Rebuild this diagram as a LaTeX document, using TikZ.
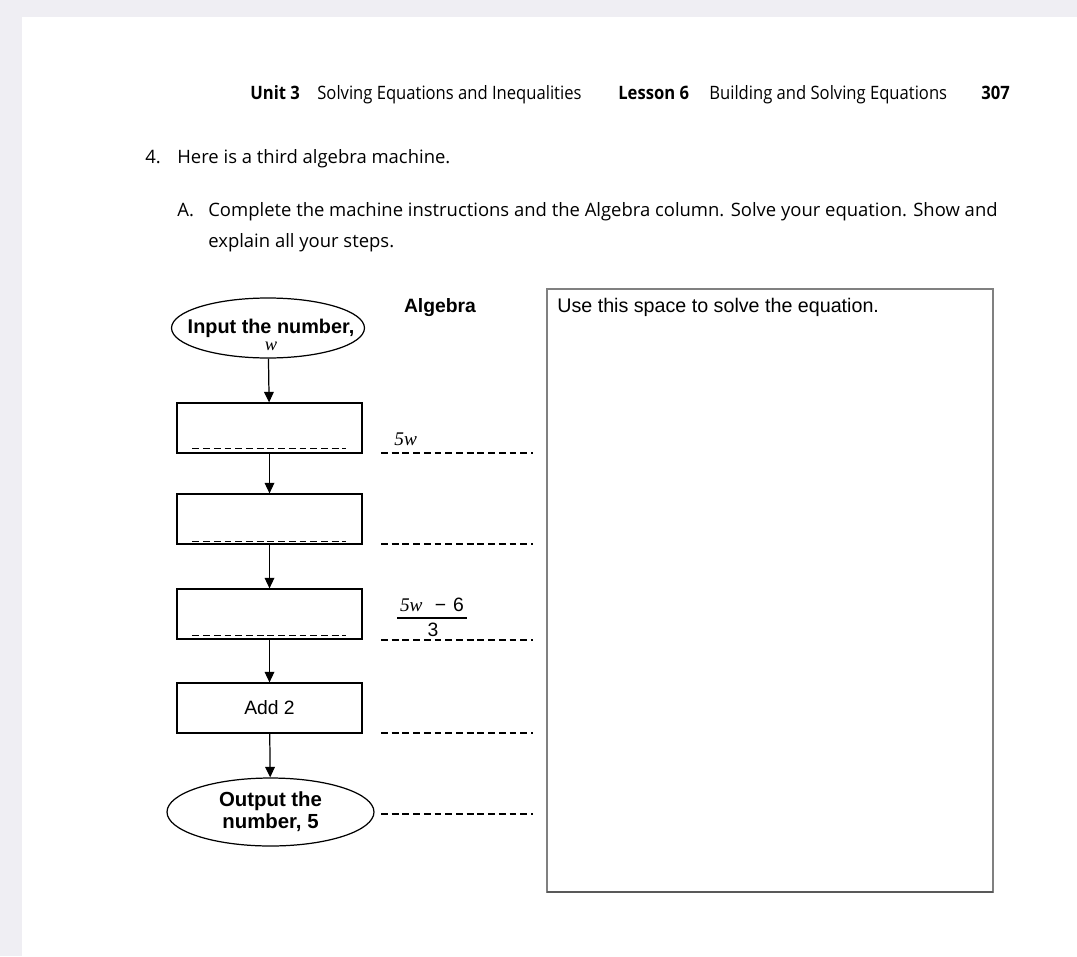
\documentclass[tikz,border=0pt]{standalone}
\usepackage{fontspec}
\setmainfont{Liberation Serif}
\setsansfont{Liberation Sans}
\newfontfamily\bodyfont{Open Sans}
\newfontfamily\headfont{Open Sans}[FakeStretch=0.9]
\usetikzlibrary{arrows.meta,positioning,shapes.geometric}

\definecolor{pagegrey}{HTML}{EFEEF3}
\definecolor{framegrey}{HTML}{808080}

\tikzset{
  stepbox/.style={draw, line width=0.7pt, minimum width=3.7cm, minimum height=1cm, font=\sffamily\fontsize{11}{13}\selectfont},
  endcap/.style={draw, ellipse, line width=0.7pt, inner sep=0pt},
  captext/.style={align=center, inner sep=0pt, font=\sffamily\bfseries\fontsize{11.6}{12.5}\selectfont},
  blank/.style={dash pattern=on 3.9pt off 2.2pt, line width=0.6pt},
  flow/.style={-{Triangle[length=6pt,width=5.5pt]}, line width=0.7pt},
  body/.style={anchor=base west, inner sep=0pt, font=\bodyfont\fontsize{10.5}{12}\selectfont},
  head/.style={anchor=base west, inner sep=0pt, font=\headfont\fontsize{10.5}{12}\selectfont}
}

\begin{document}
\begin{tikzpicture}[x=0.02cm, y=-0.02cm]
        % page and margins
        \fill[pagegrey] (0,0) rectangle (1077,956);
        \fill[white] (22,17) rectangle (1077,956);
        \useasboundingbox (0,0) rectangle (1077,956);

        % running head
        \node[head] (unit) at (250,100) {\bfseries Unit 3};
        \node[head] (unitname) at (317,100) {Solving Equations and Inequalities};
        \node[head] (lesson) at (618,100) {\bfseries Lesson 6};
        \node[head] (lessonname) at (709,100) {Building and Solving Equations};
        \node[head] (page) at (981,100) {\bfseries 307};

        % question text
        \node[body] (qnum) at (145,164) {4.};
        \node[body] (qtext) at (177,164) {Here is a third algebra machine.};
        \node[body] (pnum) at (177,216) {A.};
        \node[body] (ptext) at (208,216) {Complete the machine instructions and the Algebra column. Solve your equation. Show and};
        \node[body] (ptext2) at (208,247) {explain all your steps.};

        % the machine
        \node[endcap, minimum width=3.86cm, minimum height=1.2cm] (input) at (268,328) {};
        \node[captext, font=\sffamily\bfseries\fontsize{11.3}{9.6}\selectfont] (inputtext) at (271,335)
            {Input the number,\\{\normalfont\rmfamily\itshape\fontsize{10.5}{10}\selectfont w}};
        \node[stepbox] (stepA) at (269.5,428) {};
        \node[stepbox] (stepB) at (269.5,519) {};
        \node[stepbox] (stepC) at (269.5,614) {};
        \node[stepbox] (addtwo) at (269.5,708) {Add 2};
        \node[endcap, minimum width=4.14cm, minimum height=1.36cm] (output) at (270.5,812) {};
        \node[captext] (outputtext) at (output) {Output the\\number, 5};

        \draw[flow] (input) -- (stepA);
        \draw[flow] (stepA) -- (stepB);
        \draw[flow] (stepB) -- (stepC);
        \draw[flow] (stepC) -- (addtwo);
        \draw[flow] (addtwo) -- (output);

        % blanks inside the boxes
        \draw[blank] ([shift={(16,-5)}]stepA.south west) -- ([shift={(-17,-5)}]stepA.south east);
        \draw[blank] ([shift={(16,-3)}]stepB.south west) -- ([shift={(-17,-3)}]stepB.south east);
        \draw[blank] ([shift={(16,-4)}]stepC.south west) -- ([shift={(-17,-4)}]stepC.south east);

        % algebra column
        \node[font=\sffamily\bfseries\fontsize{11}{13}\selectfont] (algebra) at (440,308) {Algebra};
        \draw[blank] (381,453) -- (533,453);
        \draw[blank] (381,544) -- (533,544);
        \draw[blank] (381,640) -- (533,640);
        \draw[blank] (381,733) -- (533,733);
        \draw[blank] (381,814) -- (533,814);
        \node[anchor=base west, inner sep=0pt, font=\rmfamily\itshape\fontsize{11}{13}\selectfont] (fiveW) at (394,445) {5w};
        \node[anchor=base, inner sep=0pt, font=\sffamily\fontsize{11}{13}\selectfont] (num) at (432,611)
            {{\rmfamily\itshape 5w}\hspace{7pt}−\hspace{4pt}6};
        \draw[line width=0.7pt] (397,618) -- (467,618);
        \node[anchor=base, inner sep=0pt, font=\sffamily\fontsize{11}{13}\selectfont] (den) at (433,636) {3};

        % working space
        \draw[framegrey, line width=0.6pt] (547,289) rectangle (993,892);
        \draw[black!65, line width=1pt] (547,892) -- (993,892);
        \node[anchor=base west, inner sep=0pt, font=\sffamily\fontsize{11.2}{13}\selectfont] (space) at (557,312)
            {Use this space to solve the equation.};
\end{tikzpicture}
\end{document}
